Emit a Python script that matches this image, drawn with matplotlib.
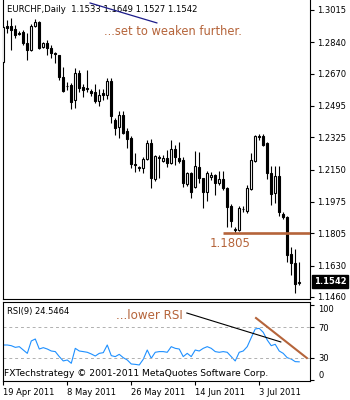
import matplotlib
matplotlib.use("Agg")
import matplotlib.pyplot as plt
import matplotlib.transforms as mtransforms
import numpy as np

# EURCHF daily bars, 19 Apr 2011 - 14 Jul 2011
opens = [1.2733, 1.2928, 1.2928, 1.2912, 1.2890, 1.2896, 1.2836, 1.2798, 1.2928, 1.2950,
         1.2814, 1.2836, 1.2809, 1.2782, 1.2771, 1.2652, 1.2603, 1.2609, 1.2527, 1.2674,
         1.2598, 1.2592, 1.2576, 1.2571, 1.2522, 1.2565, 1.2554, 1.2630, 1.2419, 1.2381,
         1.2446, 1.2359, 1.2321, 1.2180, 1.2159, 1.2159, 1.2207, 1.2294, 1.2099, 1.2218,
         1.2197, 1.2213, 1.2186, 1.2262, 1.2213, 1.2202, 1.2072, 1.2132, 1.2056, 1.2164,
         1.2104, 1.2029, 1.2110, 1.2121, 1.2077, 1.2099, 1.2050, 1.1953, 1.1823, 1.1823,
         1.1936, 1.1926, 1.2045, 1.2197, 1.2332, 1.2332, 1.2294, 1.2132, 1.2023, 1.2115,
         1.1909, 1.1893, 1.1693, 1.1644, 1.1533]
highs = [1.2934, 1.2961, 1.2972, 1.2934, 1.2901, 1.2907, 1.2890, 1.2939, 1.2966, 1.2955,
         1.2842, 1.2852, 1.2825, 1.2787, 1.2771, 1.2706, 1.2625, 1.2619, 1.2701, 1.2690,
         1.2614, 1.2690, 1.2587, 1.2614, 1.2587, 1.2587, 1.2646, 1.2646, 1.2430, 1.2468,
         1.2468, 1.2375, 1.2332, 1.2240, 1.2169, 1.2218, 1.2310, 1.2316, 1.2229, 1.2229,
         1.2229, 1.2256, 1.2310, 1.2283, 1.2300, 1.2218, 1.2137, 1.2137, 1.2251, 1.2245,
         1.2104, 1.2142, 1.2137, 1.2126, 1.2142, 1.2142, 1.2056, 1.1964, 1.1839, 1.1953,
         1.1953, 1.2066, 1.2240, 1.2338, 1.2343, 1.2343, 1.2300, 1.2169, 1.2169, 1.2169,
         1.1920, 1.1898, 1.1730, 1.1720, 1.1649]
lows = [1.2728, 1.2890, 1.2798, 1.2863, 1.2880, 1.2825, 1.2744, 1.2793, 1.2923, 1.2804,
        1.2809, 1.2771, 1.2755, 1.2728, 1.2636, 1.2571, 1.2581, 1.2478, 1.2484, 1.2571,
        1.2543, 1.2571, 1.2549, 1.2511, 1.2495, 1.2527, 1.2533, 1.2403, 1.2338, 1.2321,
        1.2343, 1.2267, 1.2159, 1.2137, 1.2142, 1.2132, 1.2202, 1.2050, 1.2088, 1.2104,
        1.2191, 1.2164, 1.2180, 1.2175, 1.2186, 1.2056, 1.2061, 1.1996, 1.2050, 1.2077,
        1.1942, 1.1980, 1.2094, 1.2012, 1.2066, 1.2039, 1.1839, 1.1839, 1.1805, 1.1817,
        1.1920, 1.1915, 1.2039, 1.2191, 1.2310, 1.2278, 1.2099, 1.1958, 1.1969, 1.1898,
        1.1882, 1.1649, 1.1579, 1.1481, 1.1527]
closes = [1.2923, 1.2917, 1.2907, 1.2880, 1.2885, 1.2836, 1.2798, 1.2928, 1.2950, 1.2809,
          1.2836, 1.2809, 1.2782, 1.2777, 1.2652, 1.2576, 1.2603, 1.2516, 1.2674, 1.2592,
          1.2581, 1.2587, 1.2565, 1.2522, 1.2554, 1.2554, 1.2630, 1.2440, 1.2375, 1.2446,
          1.2348, 1.2316, 1.2180, 1.2175, 1.2159, 1.2207, 1.2294, 1.2104, 1.2224, 1.2213,
          1.2213, 1.2186, 1.2262, 1.2218, 1.2197, 1.2077, 1.2132, 1.2029, 1.2169, 1.2104,
          1.2029, 1.2132, 1.2121, 1.2077, 1.2099, 1.2050, 1.1947, 1.1871, 1.1823, 1.1942,
          1.1936, 1.2050, 1.2202, 1.2332, 1.2327, 1.2283, 1.2132, 1.2018, 1.2115, 1.1920,
          1.1893, 1.1687, 1.1644, 1.1530, 1.1542]

# RSI(9) values per bar
rsi = [46.7, 46.7, 45.8, 43.6, 44.5, 40.1, 35.7, 52.0, 54.6, 41.4,
       43.2, 41.4, 38.8, 38.0, 31.4, 25.7, 27.0, 22.6, 42.3, 38.8,
       38.0, 37.1, 34.9, 32.2, 35.7, 36.6, 46.7, 32.7, 31.4, 34.4,
       30.0, 27.0, 21.7, 21.2, 20.4, 27.9, 40.1, 29.2, 37.1, 38.0,
       38.0, 37.1, 44.5, 42.3, 41.4, 31.4, 35.7, 31.4, 40.1, 38.8,
       42.3, 44.5, 42.3, 38.0, 37.1, 38.0, 37.1, 31.4, 25.7, 37.1,
       38.8, 44.5, 56.3, 67.8, 68.6, 63.4, 53.3, 45.8, 47.6, 38.8,
       35.7, 30.0, 28.2, 24.8, 24.5464]

price_ticks = [1.3015, 1.2840, 1.2670, 1.2495, 1.2325, 1.2150, 1.1975, 1.1805, 1.1630, 1.1460]
date_pos = [0, 16, 32, 48, 64]
date_labels = ["19 Apr 2011", "8 May 2011", "26 May 2011", "14 Jun 2011", "3 Jul 2011"]

support = 1.1805
last_close = 1.1542
rsi_last = 24.5464

# hand-drawn trend lines: (bar, value) pairs
blue_trend = ([21.7, 38.4], [1.3053, 1.2945])
support_start = 54.9
rsi_black = ([45.9, 69.4], [88.8, 50.7])
rsi_brown = ([63.2, 75.9], [82.2, 29.6])

brown = "#b5643a"
plt.rcParams['font.family'] = 'DejaVu Sans'

fig = plt.figure(figsize=(3.5, 4.0), dpi=100)
ax = fig.add_axes([3/350, 1 - 299/400, 307/350, 299/400])
ax2 = fig.add_axes([3/350, 1 - 381/400, 307/350, 79/400])

x = np.arange(len(closes))
o = np.array(opens); c = np.array(closes)
h = np.array(highs); l = np.array(lows)
up = c >= o

# candles
ax.vlines(x, l, h, color="black", linewidth=0.8, zorder=2)
body_lo = np.minimum(o, c)
body_h = np.maximum(np.abs(c - o), 0.00025)
ax.bar(x[up], body_h[up], bottom=body_lo[up], width=0.6, color="white",
       edgecolor="black", linewidth=0.8, zorder=3)
ax.bar(x[~up], body_h[~up], bottom=body_lo[~up], width=0.6, color="black",
       edgecolor="black", linewidth=0.8, zorder=3)

ax.set_xlim(-0.075, 76.7)
ax.set_ylim(1.14485, 1.30692)
ax.set_xticks([])
ax.yaxis.tick_right()
ax.set_yticks(price_ticks)
ax.set_yticklabels(["%.4f" % t for t in price_ticks])
ax.tick_params(axis="y", length=3, width=0.8, labelsize=6, pad=2)

ax.plot(blue_trend[0], blue_trend[1], color="#1c1c8a", linewidth=0.9, clip_on=False, zorder=4)
ax.hlines(support, support_start, 76.7, color=brown, linewidth=1.9, zorder=4)
ax.text(51.7, 1.1785, "1.1805", color=brown, fontsize=8.5, va="top", ha="left")
ax.text(25.2, 1.2898, "...set to weaken further.", color=brown, fontsize=8.3, va="center")
ax.text(0.013, 0.968, "EURCHF,Daily  %.4f %.4f %.4f %.4f" % (opens[-1], highs[-1], lows[-1], closes[-1]),
        transform=ax.transAxes, fontsize=6.1, va="center")

trans = mtransforms.blended_transform_factory(ax.transAxes, ax.transData)
ax.text(1.012, last_close, "%.4f" % last_close, transform=trans, color="white", fontsize=6,
        va="center", ha="left", fontweight="bold",
        bbox=dict(boxstyle="square,pad=0.25", fc="black", ec="black"))

for sp in ax.spines.values():
    sp.set_linewidth(0.8)
ax.spines["top"].set_visible(False)

# RSI panel
ax2.plot(x, rsi, color="#1e90ff", linewidth=0.8)
ax2.axhline(70, color="#b0b0b0", linestyle=(0, (3, 3)), linewidth=0.7)
ax2.axhline(30, color="#b0b0b0", linestyle=(0, (3, 3)), linewidth=0.7)
ax2.plot(rsi_black[0], rsi_black[1], color="black", linewidth=0.8)
ax2.plot(rsi_brown[0], rsi_brown[1], color=brown, linewidth=1.5)
ax2.set_xlim(-0.075, 76.7)
ax2.set_ylim(-0.7, 103.3)
ax2.yaxis.tick_right()
ax2.set_yticks([0, 30, 70, 100])
ax2.set_yticklabels(["0", "30", "70", "100"])
ax2.tick_params(axis="y", length=3, width=0.8, labelsize=6, pad=3)
ylabs = ax2.get_yticklabels()
ylabs[0].set_va("bottom")
ylabs[3].set_va("top")
ax2.set_xticks(date_pos)
ax2.set_xticklabels(date_labels, ha="left")
ax2.tick_params(axis="x", length=3, width=0.8, labelsize=6, pad=2)
for sp in ax2.spines.values():
    sp.set_linewidth(0.8)

ax2.text(0.013, 0.88, "RSI(9) %.4f" % rsi_last, transform=ax2.transAxes, fontsize=6, va="center")
ax2.text(28.2, 86, "...lower RSI", color=brown, fontsize=8.6, va="center")
ax2.text(0.003, 0.09, "FXTechstrategy \u00a9 2001-2011 MetaQuotes Software Corp.",
         transform=ax2.transAxes, fontsize=6.6, va="center")

fig.savefig("out.png", dpi=100)
